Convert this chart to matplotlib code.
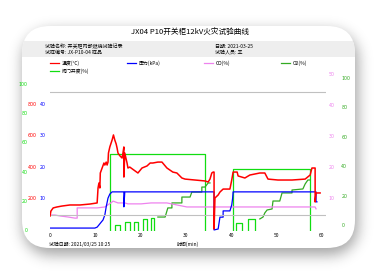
import numpy as np
import matplotlib
matplotlib.use("Agg")
import matplotlib.pyplot as plt
from matplotlib.lines import Line2D
from matplotlib.patches import FancyBboxPatch, Rectangle

plt.rcParams["font.family"] = ["Noto Sans CJK SC", "DejaVu Sans"]

W, H = 384, 277
nan = np.nan

# ---- data, time in minutes ----
x_ticks = [0, 10, 20, 30, 40, 50, 60]

temp_t = [
    0.0, 0.2, 0.7, 1.5, 2.6, 4.4, 6.6, 8.8, 10.4, 10.6,
    10.8, 11.0, 11.1, 11.5, 11.9, 12.1, 12.4, 12.6, 12.8, 12.9,
    13.2, 13.7, 14.0, 14.3, 14.6, 14.8, 15.0, 15.4, 15.9, 16.1,
    16.3, 16.3, 16.5, 17.0, 17.2, 17.6, 18.5, 19.4, 20.3, 21.4,
    22.1, 22.7, 23.8, 24.7, 25.8, 27.1, 28.0, 29.1, 29.8, 32.0,
    34.2, 34.9, 35.3, 35.7, 36.0, 36.2, 36.2, 36.4, 37.1, 37.5,
    38.2, 39.7, 40.1, 40.4, 41.3, 41.5, 43.0, 44.1, 46.3, 47.4,
    48.1, 50.3, 53.4, 56.3, 57.4, 57.8, 58.5, 58.5, 58.7, 59.6]
temp_v = [
    83, 115, 135, 141, 147, 154, 154, 160, 167, 263,
    295, 263, 359, 391, 423, 410, 429, 410, 429, 487,
    526, 570, 603, 570, 545, 519, 487, 470, 455, 487,
    526, 333, 487, 423, 391, 397, 378, 359, 391, 404,
    423, 423, 429, 429, 391, 365, 359, 327, 320, 314,
    308, 301, 320, 359, 365, 365, 0, 199, 218, 237,
    256, 256, 314, 365, 365, 340, 327, 346, 359, 359,
    320, 314, 314, 320, 346, 391, 391, 173, 231, 231]

press_t = [0.0, 9.9, 10.4, 10.8, 11.3, 11.7, 12.1, 12.4, 12.6, 12.8,
           13.2, 13.7, 16.3, 16.3, 16.5, 36.2, 36.2, 37.1, 37.5, 38.2,
           38.2, 39.7, 40.1, 40.3, 40.4, 58.7, 58.7, 58.9]
press_v = [0.3, 0.3, 0.6, 1.3, 2.2, 2.9, 4.5, 7.1, 8.5, 9.9,
           11.2, 11.9, 11.9, 7.1, 11.9, 11.9, -0.3, 0.0, 3.8, 3.8,
           5.8, 5.8, 7.7, 9.9, 11.9, 11.9, 8.7, 8.7]

co_t = [0.0, 1.1, 2.2, 3.8, 5.5, 6.0, 6.0, 10.4, 12.1, 13.7,
        13.9, 15.0, 16.5, 17.2, 20.1, 22.3, 25.8, 30.2, 58.5, 58.7]
co_v = [4.5, 4.5, 4.2, 3.9, 3.5, 3.5, 6.8, 6.8, 7.1, 8.7,
        9.0, 8.4, 8.4, 8.1, 8.1, 8.4, 8.4, 7.1, 7.1, 6.5]

o2_t = [23.8, 25.4, 26.0, 26.9, 26.9, 29.1, 29.1, 30.9, 31.3, 33.5,
        33.5, 34.2, 34.9, 35.3, nan, 46.3, 47.0, 47.4, 47.9, 49.0,
        49.2, 50.7, 51.2, 53.4, 53.4, 55.8, 56.3, 56.9, 57.4]
o2_v = [5.4, 5.4, 11.6, 11.6, 15.0, 15.0, 19.0, 19.0, 22.4, 22.4,
        25.8, 25.8, 28.6, 28.6, nan, 4.1, 5.4, 8.2, 10.2, 10.9,
        16.3, 16.3, 21.8, 21.8, 23.8, 24.5, 27.9, 30.6, 30.6]

valve_t = [13.2, 13.2, 34.2, 34.2, nan, 14.3, 14.3, 15.4, 15.4, nan,
           16.5, 16.5, 17.6, 17.6, nan, 18.5, 18.5, 19.4, 19.4, nan,
           20.5, 20.5, 21.4, 21.4, nan, 22.3, 22.3, 22.9, 22.9, nan,
           40.4, 40.4, 57.4, 57.4, nan, 41.0, 41.0, 42.4, 42.4, nan,
           43.7, 43.7, 45.2, 45.2]
valve_v = [0, 52, 52, 0, nan, 0, 3.4, 3.4, 0, nan,
           0, 5.5, 5.5, 0, nan, 0, 5.5, 5.5, 0, nan,
           0, 7.5, 7.5, 0, nan, 0, 8.2, 8.2, 0, nan,
           0, 42, 42, 0, nan, 0, 4.8, 4.8, 0, nan,
           0, 7.5, 7.5, 0]

ref_lines = [90, 878]  # 温度参考线

RED, BLUE, PINK, GREEN, LIME = "#ff0000", "#0000ff", "#ee82ee", "#33aa22", "#11dd11"


def fx(x):
    return x / W


def fy(y):
    return 1 - y / H


fig = plt.figure(figsize=(W / 100, H / 100), dpi=100)

# background card with a soft shadow
bg = fig.add_axes([0, 0, 1, 1], zorder=-1)
bg.set_xlim(0, W)
bg.set_ylim(H, 0)
bg.axis("off")
yy, xx = np.mgrid[0:H, 0:W] + 0.5


def rounded_mask(x0, y0, x1, y1, r):
    cx = np.clip(xx, x0 + r, x1 - r)
    cy = np.clip(yy, y0 + r, y1 - r)
    return (((xx - cx) ** 2 + (yy - cy) ** 2) <= r * r).astype(float)


kern = np.exp(-0.5 * (np.arange(-24, 25) / 7.0) ** 2)
kern /= kern.sum()
shadow = rounded_mask(23, 31, 358, 255, 28)
shadow = np.apply_along_axis(lambda m: np.convolve(m, kern, "same"), 0, shadow)
shadow = np.apply_along_axis(lambda m: np.convolve(m, kern, "same"), 1, shadow)
bg.imshow(1 - 0.36 * shadow, cmap="gray", vmin=0, vmax=1,
          extent=(0, W, H, 0), aspect="auto", interpolation="bilinear")
card = FancyBboxPatch((22, 26), 333, 222, boxstyle="round,pad=0,rounding_size=28",
                      facecolor="white", edgecolor="none")
bg.add_patch(card)
band = Rectangle((22, 41), 333, 16, facecolor="#eeeeee", edgecolor="none")
bg.add_patch(band)
band.set_clip_path(card)

# header texts
fig.text(fx(190), fy(32), "JX04 P10开关柜12kV火灾试验曲线", ha="center", va="center", fontsize=5.5)
fig.text(fx(45), fy(46), "试验名称: 开关柜内部燃烧试验记录", ha="left", va="center", fontsize=3.6)
fig.text(fx(45), fy(52), "试样编号: JX-P10-04 样品", ha="left", va="center", fontsize=3.6)
fig.text(fx(215), fy(46), "日期: 2021-03-25", ha="left", va="center", fontsize=3.6)
fig.text(fx(215), fy(52), "试验人员: 王", ha="left", va="center", fontsize=3.6)

# legend, laid out as on the original sheet
legend_items = [
    (RED, "温度(°C)", 50, 63),
    (BLUE, "压力(kPa)", 127, 63),
    (PINK, "CO(%)", 204, 63),
    (GREEN, "O2(%)", 281, 63),
    (LIME, "阀门开度(%)", 50, 71),
]
for color, label, lx, ly in legend_items:
    fig.add_artist(Line2D([fx(lx), fx(lx + 9)], [fy(ly), fy(ly)], color=color, lw=0.9))
    fig.text(fx(lx + 12), fy(ly), label, ha="left", va="center", fontsize=3.5)

# plot axes, all sharing one box
rect = [fx(50), fy(231), fx(276), 158 / H]
ax = fig.add_axes(rect)
ax.patch.set_visible(False)
ax_o2 = ax.twinx()
ax_co = ax.twinx()
ax_p = ax.twinx()
ax_t = ax.twinx()

ax.plot(valve_t, valve_v, color=LIME, lw=0.9)
ax_o2.plot(o2_t, o2_v, color=GREEN, lw=0.9)
ax_co.plot(co_t, co_v, color=PINK, lw=0.9)
ax_p.plot(press_t, press_v, color=BLUE, lw=0.9)
for r in ref_lines:
    ax_t.axhline(r, color="#c0c0c0", lw=0.8)
ax_t.plot(temp_t, temp_v, color=RED, lw=1.1)

ax.set_xlim(0, 60.9)
ax.set_xticks(x_ticks)
ax.tick_params(axis="x", length=0, labelsize=3.5, pad=1.5)

axis_setup = [
    (ax, (-0.7, 107.5), [0, 20, 40, 60, 80, 100], LIME, "left", 16),
    (ax_o2, (-4.1, 103.4), [0, 20, 40, 60, 80, 100], GREEN, "right", 11),
    (ax_co, (-0.65, 50.3), [10, 20, 30, 40, 50], PINK, "right", 2),
    (ax_p, (-0.64, 50), [10, 20, 30, 40], BLUE, "left", 3),
    (ax_t, (-12.8, 1000), [200, 400, 600, 800], RED, "left", 9.5),
]
for a, lim, ticks, color, side, pad in axis_setup:
    a.set_ylim(*lim)
    a.set_yticks(ticks)
    if side == "left":
        a.yaxis.tick_left()
    else:
        a.yaxis.tick_right()
    a.tick_params(axis="y", length=0, labelsize=3.4, labelcolor=color, pad=pad)
    for lbl in a.get_yticklabels():
        lbl.set_family("DejaVu Sans")
    for s in a.spines.values():
        s.set_visible(False)

fig.text(fx(49), fy(244), "试验日期: 2021/03/25 10:25", ha="left", va="center", fontsize=3.5)
fig.text(fx(188), fy(244), "时间(min)", ha="center", va="center", fontsize=3.5)

fig.savefig("out.png", dpi=100)
